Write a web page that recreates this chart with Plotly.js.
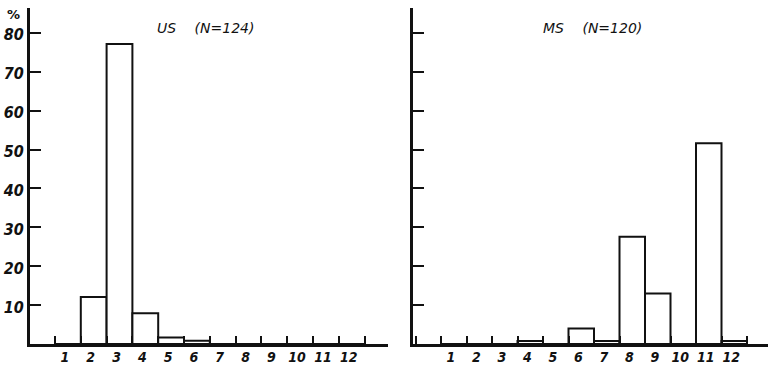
<!DOCTYPE html>
<html>
<head>
<meta charset="utf-8">
<script src="https://cdn.plot.ly/plotly-3.0.1.min.js"></script>
<style>html,body{margin:0;padding:0;background:#fff;}#chart{width:768px;height:367px;}</style>
</head>
<body>
<div id="chart"></div>
<script>
// Category bins (x) and percentage values
const categories = [1, 2, 3, 4, 5, 6, 7, 8, 9, 10, 11, 12];
const usValues = [0, 12.1, 77.1, 7.9, 1.7, 0.85, 0, 0, 0, 0, 0, 0];
const msValues = [0, 0, 0, 0.8, 0, 4.0, 0.8, 27.6, 13.0, 0, 51.6, 0.8];
const yTickVals = [10, 20, 30, 40, 50, 60, 70, 80];
const yTickText = ['10', '20', '30', '40', '50', '60', '70', '80'];
const xTickText = ['1', '2', '3', '4', '5', '6', '7', '8', '9', '10', '11', '12'];
const usTitle = 'US\u2003 (N=124)';
const msTitle = 'MS\u2003 (N=120)';

const W = 768, H = 367;
const basePx = 344, topPx = 8;
const yMax = (basePx - topPx) / 3.89;

const narrowFont = {family: '"Liberation Sans Narrow", "DejaVu Sans Condensed", "DejaVu Sans", sans-serif', size: 14, color: '#111', style: 'italic', weight: 'bold'};
const yFont = {family: '"DejaVu Sans Condensed", "DejaVu Sans", sans-serif', size: 16, color: '#111', style: 'italic', weight: 'bold'};

function barTrace(vals, xa, ya) {
  return {
    type: 'bar', x: categories, y: vals, xaxis: xa, yaxis: ya,
    width: 1,
    marker: {color: '#ffffff', line: {color: '#111', width: 2}},
    hoverinfo: 'skip', showlegend: false
  };
}

function xAxis(domain, range, anchor) {
  return {
    domain: domain, range: range, anchor: anchor, showgrid: false, zeroline: false,
    showline: true, linewidth: 3, linecolor: '#111',
    tickmode: 'array', tickvals: categories, ticktext: xTickText, ticks: '',
    tickfont: narrowFont, ticklabelshift: -3, ticklabelstandoff: -2,
    minor: {tick0: 0.5, dtick: 1, ticks: 'inside', ticklen: 8, tickwidth: 2, tickcolor: '#111'},
    fixedrange: true
  };
}
function yAxis(anchor, showLabels) {
  return {
    domain: [(H - basePx) / H, (H - topPx) / H], range: [0, yMax],
    anchor: anchor, showgrid: false, zeroline: false,
    showline: true, linewidth: 3, linecolor: '#111',
    tickmode: 'array', tickvals: yTickVals, ticktext: yTickText,
    showticklabels: showLabels,
    ticks: 'inside', ticklen: 11, tickwidth: 2, tickcolor: '#111',
    tickfont: yFont, ticklabelshift: 2, fixedrange: true
  };
}

const xLeftPx = 30, xLeftEnd = 388, binL0 = 55, stepL = 25.8;
const xRightPx = 413, xRightEnd = 768, binR0 = 441, stepR = 25.5;
const rangeL = [0.5 + (xLeftPx - binL0) / stepL, 0.5 + (xLeftEnd - binL0) / stepL];
const rangeR = [0.5 + (xRightPx - binR0) / stepR, 0.5 + (xRightEnd - binR0) / stepR];

const data = [barTrace(usValues, 'x', 'y'), barTrace(msValues, 'x2', 'y2')];

const titleFont = {family: '"DejaVu Sans", sans-serif', size: 14, color: '#111', style: 'italic'};
const layout = {
  width: W, height: H,
  margin: {l: 0, r: 0, t: 0, b: 0},
  paper_bgcolor: '#fff', plot_bgcolor: 'rgba(0,0,0,0)',
  bargap: 0,
  xaxis: xAxis([xLeftPx / W, xLeftEnd / W], rangeL, 'y'),
  yaxis: yAxis('x', true),
  xaxis2: xAxis([xRightPx / W, 1], rangeR, 'y2'),
  yaxis2: yAxis('x2', false),
  annotations: [
    {text: usTitle, xref: 'paper', yref: 'paper', x: 205 / W, y: (H - 28) / H, xanchor: 'center', yanchor: 'middle',
     showarrow: false, font: titleFont},
    {text: msTitle, xref: 'paper', yref: 'paper', x: 592 / W, y: (H - 28) / H, xanchor: 'center', yanchor: 'middle',
     showarrow: false, font: titleFont},
    {text: '%', xref: 'paper', yref: 'paper', x: 13 / W, y: (H - 14) / H, xanchor: 'center', yanchor: 'middle',
     showarrow: false, font: {family: '"DejaVu Sans", sans-serif', size: 13, color: '#111', weight: 'bold'}}
  ]
};

Plotly.newPlot('chart', data, layout, {displayModeBar: false, staticPlot: true});
</script>
</body>
</html>
